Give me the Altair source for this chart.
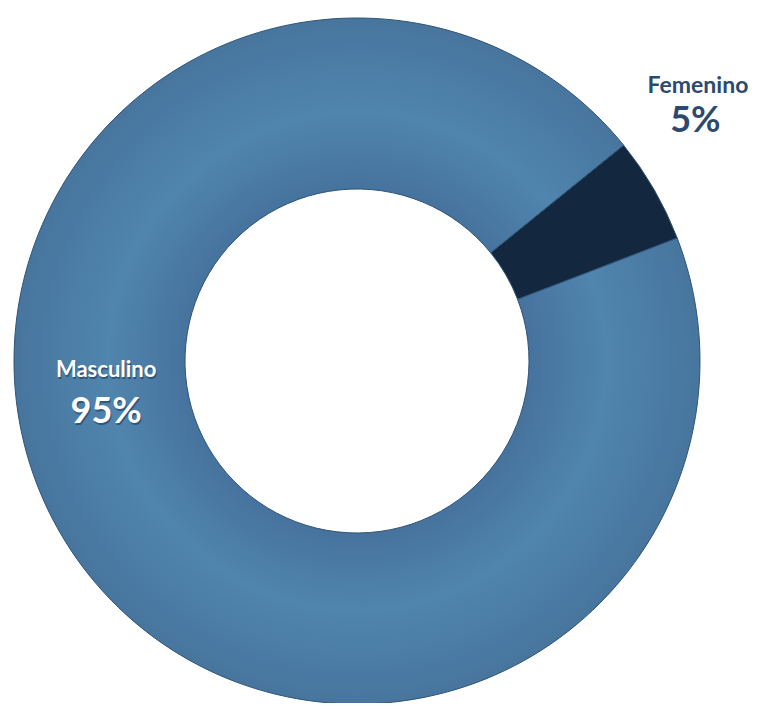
import math
import altair as alt
import pandas as pd

# ---- data ----
categorias = ["Femenino", "Masculino"]
porcentajes = [5, 95]
etiquetas = ["5%", "95%"]

df = pd.DataFrame({"genero": categorias, "porcentaje": porcentajes, "etiqueta": etiquetas})

inicio = math.radians(51)
theta_scale = alt.Scale(domain=[0, 100], range=[inicio, inicio + 2 * math.pi])

grad = {
    "gradient": "radial",
    "x1": 0.5, "y1": 0.5, "r1": 0.25,
    "x2": 0.5, "y2": 0.5, "r2": 0.5,
    "stops": [
        {"offset": 0.0, "color": "#46739d"},
        {"offset": 0.45, "color": "#5085ad"},
        {"offset": 1.0, "color": "#47759e"},
    ],
}

base = (
    alt.Chart(df)
    .transform_window(
        acum="sum(porcentaje)",
        sort=[alt.SortField("genero", order="ascending")],
        frame=[None, 0],
    )
    .transform_calculate(
        ini="datum.acum - datum.porcentaje",
        medio="datum.acum - datum.porcentaje / 2",
    )
)

arcs = base.mark_arc(
    outerRadius=343, innerRadius=172, stroke="#2e5478", strokeWidth=1
).encode(
    theta=alt.Theta("ini:Q", scale=theta_scale),
    theta2="acum:Q",
    color=alt.condition(
        "datum.genero == 'Femenino'", alt.value("#13283f"), alt.value(grad)
    ),
)

fem = base.transform_filter("datum.genero == 'Femenino'")
masc = base.transform_filter("datum.genero == 'Masculino'")

theta_mid = alt.Theta("medio:Q", scale=theta_scale)

fem_name = fem.mark_text(
    radius=438, thetaOffset=-0.155, font="Lato", fontWeight="bold",
    fontSize=23, color="#2b4a6e"
).encode(theta=theta_mid, text="genero:N")

fem_pct = fem.mark_text(
    radius=415, thetaOffset=-0.094, font="Lato", fontWeight="bold",
    fontSize=36, color="#2b4a6e"
).encode(theta=theta_mid, text="etiqueta:N")

masc_name_sh = masc.mark_text(
    radius=251, thetaOffset=0.487, font="Lato", fontWeight="bold",
    fontSize=22, color="#1b3350", opacity=0.55, dx=1, dy=2
).encode(theta=theta_mid, text="genero:N")
masc_name = masc.mark_text(
    radius=251, thetaOffset=0.487, font="Lato", fontWeight="bold",
    fontSize=22, color="white"
).encode(theta=theta_mid, text="genero:N")

masc_pct_sh = masc.mark_text(
    radius=256, thetaOffset=0.323, font="Lato", fontWeight="bold",
    fontSize=36, color="#1b3350", opacity=0.55, dx=1, dy=2
).encode(theta=theta_mid, text="etiqueta:N")
masc_pct = masc.mark_text(
    radius=256, thetaOffset=0.323, font="Lato", fontWeight="bold",
    fontSize=36, color="white"
).encode(theta=theta_mid, text="etiqueta:N")

chart = (
    alt.layer(arcs, fem_name, fem_pct, masc_name_sh, masc_name, masc_pct_sh, masc_pct)
    .properties(
        width=698,
        height=684,
        padding={"top": 11, "left": 0, "right": 43, "bottom": 0},
        autosize="none",
        background="white",
    )
    .configure_view(stroke=None)
)

chart.save("out.html", embed_options={"renderer": "svg", "actions": False})
